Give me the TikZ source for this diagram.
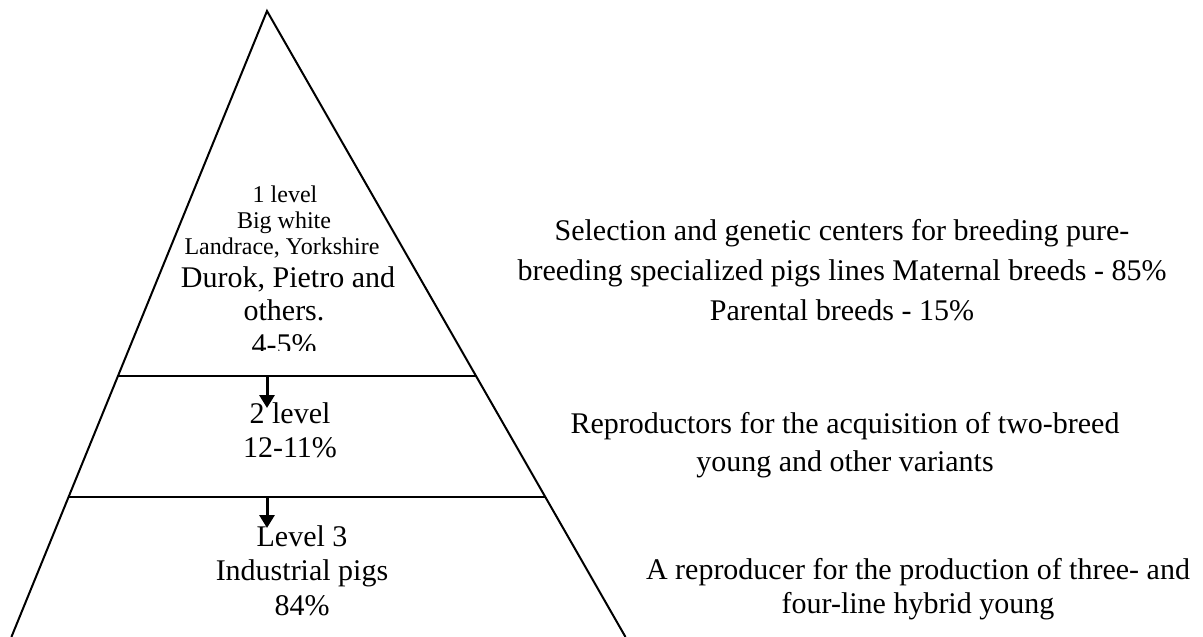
\documentclass[tikz,border=0pt]{standalone}
\usepackage{fontspec}
\setmainfont{Liberation Serif}
\usetikzlibrary{arrows.meta,calc}
\begin{document}
\begin{tikzpicture}[x=1pt,y=-1pt,
  big/.style={font=\fontsize{30}{34.5}\selectfont, inner sep=0pt, anchor=base},
  small/.style={font=\fontsize{24}{27.6}\selectfont, inner sep=0pt, anchor=base},
  edgeline/.style={line width=2pt},
  arr/.style={line width=3pt, -{Triangle[width=15pt,length=13pt]}}
]
\fill[white] (0,0) rectangle (1203,637);
\useasboundingbox (0,0) rectangle (1203,637);
% triangle
\coordinate (apex) at (267,11);
\coordinate (bl) at (11.4,637);
\coordinate (br) at (625.5,637);
\draw[edgeline] (bl) -- (apex) -- (br);
\coordinate (l1a) at ($(apex)!0.5831!(bl)$);
\coordinate (l1b) at ($(apex)!0.5831!(br)$);
\coordinate (l2a) at ($(apex)!0.7764!(bl)$);
\coordinate (l2b) at ($(apex)!0.7764!(br)$);
\draw[edgeline] (l1a) -- (l1b);
\draw[edgeline] (l2a) -- (l2b);
% arrows
\coordinate (a1s) at (267,376);
\coordinate (a1e) at (267,408);
\coordinate (a2s) at (267,497);
\coordinate (a2e) at (267,528);
\draw[arr] (a1s) -- (a1e);
\draw[arr] (a2s) -- (a2e);
% level 1 text
\node[small] (t1) at (285,202) {1 level};
\node[small] (t2) at (284,228) {Big white};
\node[small] (t3) at (282,254) {Landrace, Yorkshire};
\node[big] (t4) at (288,287) {Durok, Pietro and};
\node[big] (t5) at (284,320) {others.};
\begin{scope}
\clip (0,0) rectangle (1203,350);
\node[big] (t6) at (284,354) {4-5\%};
\end{scope}
% level 2 text
\node[big] (m1) at (290,423) {2 level};
\node[big] (m2) at (290,457) {12-11\%};
% level 3 text
\node[big] (b1) at (302,546) {Level 3};
\node[big] (b2) at (302,580.5) {Industrial pigs};
\node[big] (b3) at (302,615) {84\%};
% right texts
\node[big] (ra1) at (842,240) {Selection and genetic centers for breeding pure-};
\node[big] (ra2) at (842,280) {breeding specialized pigs lines Maternal breeds - 85\%};
\node[big] (ra3) at (842,320) {Parental breeds - 15\%};
\node[big] (rb1) at (845,433) {Reproductors for the acquisition of two-breed};
\node[big] (rb2) at (845,471) {young and other variants};
\node[big] (rc1) at (918,579) {A reproducer for the production of three- and};
\node[big] (rc2) at (918,613) {four-line hybrid young};
\end{tikzpicture}
\end{document}
